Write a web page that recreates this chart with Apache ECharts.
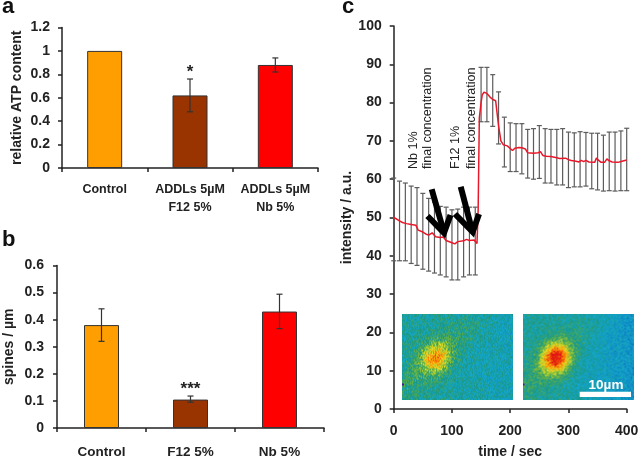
<!DOCTYPE html>
<html><head><meta charset="utf-8">
<style>html,body{margin:0;padding:0;background:#fff}#c{width:640px;height:458px}</style>
<script src="https://cdn.jsdelivr.net/npm/echarts@6/dist/echarts.min.js"></script>
</head><body><div id="c"></div>
<script>
// Panel a
const catsA = ['Control', 'ADDLs 5µM\nF12 5%', 'ADDLs 5µM\nNb 5%'];
const valsA = [1.0, 0.62, 0.88];
const lowA = [null, 0.48, 0.82];
const highA = [null, 0.76, 0.94];
const sigA = ['', '*', ''];
// Panel b
const catsB = ['Control', 'F12 5%', 'Nb 5%'];
const valsB = [0.38, 0.105, 0.43];
const lowB = [0.32, 0.095, 0.367];
const highB = [0.44, 0.118, 0.494];
const sigB = ['', '***', ''];
// Panel c: mean trace
const lineT = [0,5,10,15,18,22,30,38,42,50,55,60,66,72,80,85,90,100,105,110,120,125,130,138,143,145,147,150,152,155,160,165,170,175,180,184,188,195,200,204,208,215,220,226,230,240,248,252,256,262,270,280,285,295,300,305,313,318,322,326,330,335,345,348,352,356,362,366,370,375,385,392,400];
const lineV = [50,49.6,49.1,48.7,48.9,48.4,48.2,48,46.7,46.2,45.7,45.4,46,45,44.8,44.9,44,43.4,43.1,43.7,43.9,44.3,44,44.1,43.2,52,76,80,82,82.7,82.4,81.5,80.8,80.5,74,70,69,68.7,68,67.5,68.1,68.3,68.2,67.9,66.9,66.8,66.9,67.2,66.2,66,65.9,65.6,65.4,65.5,65.1,64.9,64.7,64.5,64.9,64.6,64.9,64.5,64.4,65.5,64.9,64.4,64.4,65.3,64.8,64.5,64.4,64.7,65];
// Panel c: error bars
const errT = [0,10,20,30,40,50,60,70,80,90,100,110,120,130,140,150,160,170,180,190,200,210,220,230,240,250,260,270,280,290,300,310,320,330,340,350,360,370,380,390,400];
const errLow = [38.7,38.7,38.7,38,37.5,36.5,36,35.5,35,34.5,33.7,33.7,34.5,35,35,75,75,73.8,69.2,63.2,62,62,61.4,60.3,60,60.2,59,59,58.5,58.5,57.8,58,58,58.2,57.5,57.2,56.9,57,56.9,57,57];
const errHigh = [60.3,59.5,59,58.2,57.8,56.3,55,54,52.9,52.7,52,52.2,52.7,52.7,52.7,89.2,89.2,87.3,82.8,76.2,74.7,74.5,74.5,73,73.2,74,73.2,73,73,73.2,72.3,72.1,72.4,72.2,72,72,71.5,72.3,72.3,72.6,73.3];
const barColors = ['#FF9E00', '#993300', '#FF0000'];

const FONT = '"Liberation Sans", Arial, sans-serif';
const INK = '#222';

// Decorative micrograph texture (a picture, not chart data)
function stops(t) {
  const s = [[0,[10,110,190]],[0.22,[20,170,205]],[0.38,[25,150,135]],[0.52,[90,175,70]],[0.68,[225,225,40]],[0.84,[255,140,0]],[1,[225,20,20]]];
  t = Math.max(0, Math.min(1, t));
  for (let i = 1; i < s.length; i++) if (t <= s[i][0]) {
    const f = (t - s[i-1][0]) / (s[i][0] - s[i-1][0]);
    return s[i-1][1].map((v, k) => Math.round(v + (s[i][1][k] - v) * f));
  }
  return s[s.length-1][1];
}
function micrograph(w, h, cx, cy, peak, rightCool, seed) {
  const cv = document.createElement('canvas'); cv.width = w; cv.height = h;
  const g = cv.getContext('2d'); let st = seed;
  const nx = () => (st = (st * 16807) % 2147483647) / 2147483647;
  for (let y = 0; y < h; y++) for (let x = 0; x < w; x++) {
    const d2 = (x-cx)*(x-cx) + (y-cy)*(y-cy);
    // process running diagonally through the cell body
    const u = (x-cx)*0.72 - (y-cy)*0.69, v = (x-cx)*0.69 + (y-cy)*0.72;
    const streak = 0.13 * Math.exp(-(v*v)/(2*11*11)) * Math.exp(-(u*u)/(2*42*42));
    const blob = peak * Math.exp(-d2/(2*10*10));
    const cool = rightCool * Math.max(0, (x-cx-5)/(w-cx));
    const t = 0.33 + blob + streak - cool + (nx()-0.5)*0.26;
    const c = stops(t);
    g.fillStyle = `rgb(${c[0]},${c[1]},${c[2]})`;
    g.fillRect(x, y, 1, 1);
  }
  g.fillStyle = '#5010a0'; g.fillRect(0, 70, 2, 2);
  return cv;
}

function errSeries(name, data, xi, yi, cap, color, lw, sig) {
  return { type: 'custom', name, xAxisIndex: xi, yAxisIndex: yi, z: 5, silent: true,
    data, encode: { x: 0, y: [1, 2] },
    renderItem(p, api) {
      const x = api.value(0), lo = api.value(1), hi = api.value(2);
      if (isNaN(lo)) return;
      const a = api.coord([x, lo]), b = api.coord([x, hi]);
      const style = { stroke: color, lineWidth: lw, fill: null };
      const kids = [
        { type: 'line', shape: { x1: a[0], y1: a[1], x2: b[0], y2: b[1] }, style },
        { type: 'line', shape: { x1: a[0]-cap, y1: a[1], x2: a[0]+cap, y2: a[1] }, style },
        { type: 'line', shape: { x1: b[0]-cap, y1: b[1], x2: b[0]+cap, y2: b[1] }, style }
      ];
      const s = sig && sig[p.dataIndex];
      if (s) kids.push({ type: 'text', style: { text: s, x: b[0], y: b[1]-7, align: 'center', verticalAlign: 'middle',
        font: 'bold 17px ' + FONT, fill: INK } });
      return { type: 'group', children: kids };
    } };
}
function barSeries(vals, xi, yi) {
  return { type: 'bar', xAxisIndex: xi, yAxisIndex: yi, barWidth: 35, silent: true,
    data: vals.map((v, i) => ({ value: v, itemStyle: { color: barColors[i], borderColor: '#333', borderWidth: 1 } })) };
}
const axisLine = { show: true, onZero: false, lineStyle: { color: INK, width: 1.5 } };
const axisTick = { show: true, length: 4, lineStyle: { color: INK, width: 1.5 } };
const tickLabel = { color: INK, fontFamily: FONT, fontWeight: 'bold', fontSize: 14 };
const nameStyle = { color: INK, fontFamily: FONT, fontWeight: 'bold', fontSize: 14 };
function yAxis(gi, max, interval, name, gap, margin) {
  return { type: 'value', gridIndex: gi, min: 0, max, interval, splitLine: { show: false }, axisLine, axisTick,
    axisLabel: { ...tickLabel, margin }, name, nameLocation: 'middle', nameGap: gap, nameRotate: 90, nameTextStyle: nameStyle };
}
function catAxis(gi, cats, margin, size) {
  return { type: 'category', gridIndex: gi, data: cats, axisLine, axisTick: { ...axisTick, alignWithLabel: false, length: 4 },
    axisLabel: { color: INK, fontFamily: FONT, fontWeight: 'bold', fontSize: size, lineHeight: 18, margin, interval: 0 } };
}
function rotText(x, yBottom, text) {
  return { type: 'text', x, y: yBottom, rotation: Math.PI/2, z: 20, silent: true,
    style: { text, align: 'left', verticalAlign: 'middle', font: '12.5px ' + FONT, fill: '#222' } };
}
function letter(x, y, t) {
  return { type: 'text', x, y, z: 20, silent: true, style: { text: t, align: 'left', verticalAlign: 'middle', font: 'bold 22px ' + FONT, fill: '#111' } };
}
function arrow(pts) {
  return { type: 'polyline', z: 30, silent: true, shape: { points: pts }, style: { stroke: '#000', lineWidth: 6, fill: null, lineJoin: 'miter' } };
}

const chart = echarts.init(document.getElementById('c'), null, { renderer: 'canvas' });
chart.setOption({
  animation: false, backgroundColor: '#fff',
  grid: [
    { left: 62, top: 27.5, width: 256, height: 140.5, outerBoundsMode: 'none' },
    { left: 57, top: 265.5, width: 267, height: 162.5, outerBoundsMode: 'none' },
    { left: 393.7, top: 26, width: 233, height: 383, outerBoundsMode: 'none' }
  ],
  xAxis: [
    catAxis(0, catsA, 13, 12.5),
    catAxis(1, catsB, 15, 13.5),
    { type: 'value', gridIndex: 2, min: 0, max: 400, interval: 100, splitLine: { show: false }, axisLine, axisTick,
      axisLabel: { ...tickLabel, margin: 15 }, name: 'time / sec', nameLocation: 'middle', nameGap: 36, nameTextStyle: nameStyle }
  ],
  yAxis: [
    yAxis(0, 1.2, 0.2, 'relative ATP content', 38, 12),
    yAxis(1, 0.6, 0.1, 'spines / µm', 41, 13),
    yAxis(2, 100, 10, 'intensity / a.u.', 30, 12)
  ],
  series: [
    barSeries(valsA, 0, 0),
    errSeries('errA', catsA.map((c, i) => [i, lowA[i] ?? NaN, highA[i] ?? NaN]), 0, 0, 3, '#333', 1.2, sigA),
    barSeries(valsB, 1, 1),
    errSeries('errB', catsB.map((c, i) => [i, lowB[i], highB[i]]), 1, 1, 3, '#333', 1.2, sigB),
    errSeries('errC', errT.map((t, i) => [t, errLow[i], errHigh[i]]), 2, 2, 2.5, '#5c5c5c', 1.2),
    { type: 'line', xAxisIndex: 2, yAxisIndex: 2, z: 6, symbol: 'none', silent: true, lineStyle: { color: '#E8182A', width: 1.5 },
      data: lineT.map((t, i) => [t, lineV[i]]) }
  ],
  graphic: [
    letter(2, 7, 'a'), letter(2, 240, 'b'), letter(342, 7, 'c'),
    rotText(413.5, 169, 'Nb 1%'), rotText(427.5, 169, 'final concentration'),
    rotText(455.5, 169, 'F12 1%'), rotText(471.5, 169, 'final concentration'),
    arrow([[431.7,189.3],[443,229]]), arrow([[427.5,216],[444,233],[450.5,215]]),
    arrow([[460.7,186.7],[471.5,228]]), arrow([[455,214],[472.7,232],[479,214]]),
    { type: 'image', x: 402, y: 313.5, z: 10, silent: true, style: { image: micrograph(111, 86, 33, 44, 0.38, 0.08, 12345), x: 0, y: 0, width: 111, height: 86 } },
    { type: 'image', x: 522.5, y: 313.5, z: 10, silent: true, style: { image: micrograph(111, 86, 33, 44, 0.6, 0.2, 67891), x: 0, y: 0, width: 111, height: 86 } },
    { type: 'rect', z: 12, silent: true, shape: { x: 579.7, y: 391.7, width: 51.3, height: 5.3 }, style: { fill: '#fff' } },
    { type: 'text', x: 606, y: 385, z: 12, silent: true, style: { text: '10µm', align: 'center', verticalAlign: 'middle', font: 'bold 13.5px ' + FONT, fill: '#fff' } }
  ]
});
</script></body></html>
